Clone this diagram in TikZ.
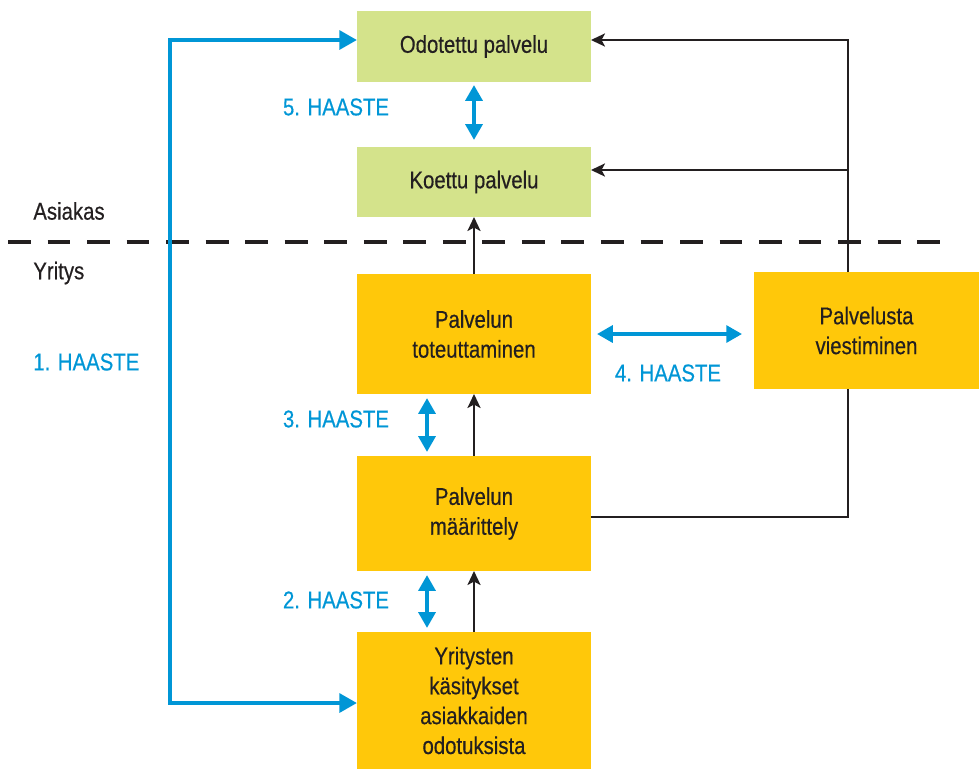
\documentclass[tikz,border=0pt]{standalone}
\usepackage{fontspec}
\setmainfont{Liberation Sans}[FakeStretch=0.84, FakeBold=0.4]
\usetikzlibrary{arrows.meta}
\definecolor{haaste}{HTML}{0096D6}
\definecolor{asiakasbg}{HTML}{D4E38B}
\definecolor{yritysbg}{HTML}{FFC80A}
\definecolor{teksti}{HTML}{231F20}
\tikzset{
  box/.style={inner sep=0pt, outer sep=0pt, align=center, text=teksti,
    font=\fontsize{13.8}{17}\selectfont},
  gbox/.style={box, fill=asiakasbg},
  ybox/.style={box, fill=yritysbg},
  lbl/.style={anchor=west, inner sep=0pt, text=teksti, font=\fontsize{13.8}{17}\selectfont},
  hlbl/.style={inner sep=0pt, text=haaste, font=\fontsize{13.8}{17}\selectfont},
  bluearrow/.style={draw=haaste, line width=2.8pt, {Triangle[length=10pt,width=10.5pt]}-{Triangle[length=10pt,width=10.5pt]}},
  bluedbl/.style={draw=haaste, line width=2.3pt, {Triangle[length=9pt,width=9.5pt]}-{Triangle[length=9pt,width=9.5pt]}},
  blkarrow/.style={draw=teksti, line width=1.1pt, -{Stealth[length=8pt,width=7.5pt,inset=2pt]}},
}
\begin{document}
\begin{tikzpicture}[x=0.02cm, y=-0.02cm]
			%%%%% START %%%%%
			\useasboundingbox (0,0) rectangle (979,769);
			
			\node[gbox, minimum width=4.68cm, minimum height=1.42cm] (odot) at (474,46.5) {Odotettu palvelu};
			\node[gbox, minimum width=4.68cm, minimum height=1.40cm] (koe) at (474,182) {Koettu palvelu};
			
			\node[ybox, minimum width=4.68cm, minimum height=2.40cm] (tot) at (474,334) {Palvelun\\toteuttaminen};
			\node[ybox, minimum width=4.68cm, minimum height=2.30cm] (maar) at (474,513.5) {Palvelun\\määrittely};
			\node[ybox, minimum width=4.68cm, minimum height=2.74cm] (kasit) at (474,700.5) {Yritysten\\käsitykset\\asiakkaiden\\odotuksista};
			\node[ybox, minimum width=4.50cm, minimum height=2.34cm] (viest) at (866.5,330.5) {Palvelusta\\viestiminen};
			
			\node[lbl] (asiakas) at (33,211) {Asiakas};
			\node[lbl] (yritys) at (33,273) {Yritys};
			\draw[teksti, line width=2.8pt, dash pattern=on 13pt off 9.5pt] (8,242) -- (945,242);
			
			\node[hlbl, anchor=west] (h1) at (33,362) {1. HAASTE};
			\node[hlbl] (h5) at (336,107) {5. HAASTE};
			\node[hlbl] (h3) at (336,419) {3. HAASTE};
			\node[hlbl] (h2) at (336,600) {2. HAASTE};
			\node[hlbl] (h4) at (668,373) {4. HAASTE};
			
			% 1. haaste
			\coordinate (c1top) at (170,40);
			\coordinate (c1bot) at (170,703);
			\draw[bluearrow] (c1top -| odot.west) -- (c1top) -- (c1bot) -- (c1bot -| kasit.west);
			
			% muut haasteet
			\coordinate (dblx) at (427,0);
			\draw[bluedbl, shorten <=1.7pt, shorten >=4pt] (odot.south) -- (koe.north);
			\draw[bluedbl, shorten <=2.3pt, shorten >=2.3pt] (tot.south -| dblx) -- (maar.north -| dblx);
			\draw[bluedbl, shorten <=2.3pt, shorten >=2.3pt] (maar.south -| dblx) -- (kasit.north -| dblx);
			\draw[bluedbl, shorten <=3.4pt, shorten >=6.8pt] (tot.east) -- (viest.west |- tot.east);
			
			% kulku
			\draw[blkarrow] (tot.north) -- (koe.south);
			\draw[blkarrow] (maar.north) -- (tot.south);
			\draw[blkarrow] (kasit.north) -- (maar.south);
			
			\coordinate (ctop) at (848,40);
			\coordinate (cmid) at (848,170);
			\coordinate (clow) at (848,517);
			\draw[blkarrow] (viest.north -| ctop) -- (ctop) -- (ctop -| odot.east);
			\draw[blkarrow] (cmid) -- (cmid -| koe.east);
			\draw[teksti, line width=1.1pt] (maar.east |- clow) -- (clow) -- (viest.south -| clow);
			
			%%%%% END %%%%%
		\end{tikzpicture}
\end{document}
